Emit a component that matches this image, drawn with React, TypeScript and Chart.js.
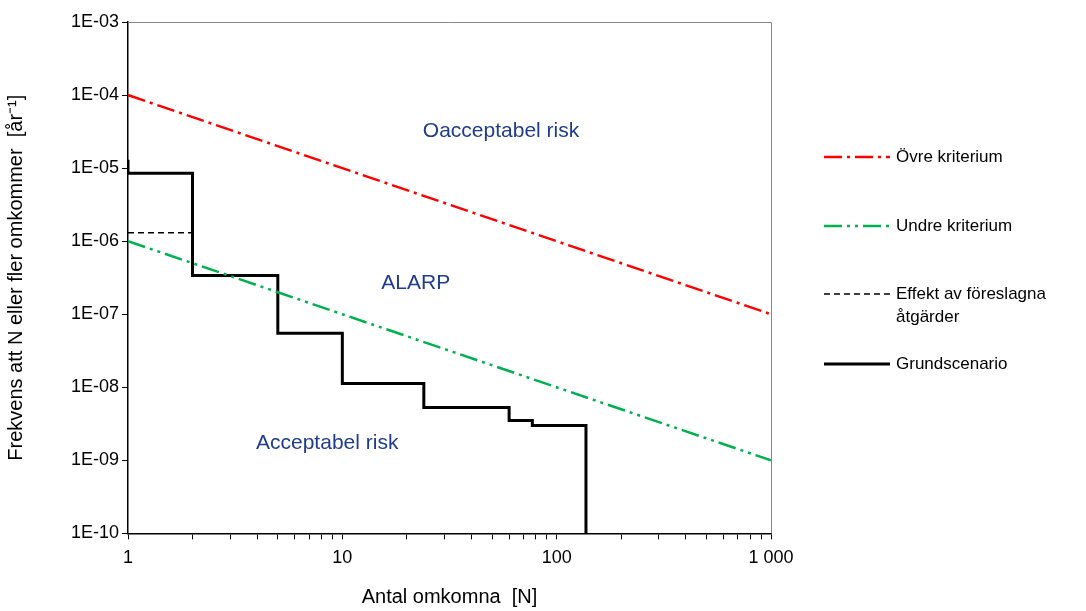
import React, { useEffect, useRef } from 'react';
import { Chart, registerables } from 'chart.js';

Chart.register(...registerables);

const FONT = '"Liberation Sans", Arial, sans-serif';

const criteriaN = [1, 1000];
const upperCriterion = [1e-4, 1e-7];
const lowerCriterion = [1e-6, 1e-9];

const effectN = [1, 2];
const effectF = [1.3e-6, 1.3e-6];

const baseN = [1, 1, 2, 5, 10, 24, 60, 77, 137];
const baseF = [1.3e-5, 8.5e-6, 3.4e-7, 5.5e-8, 1.13e-8, 5.3e-9, 3.5e-9, 3.0e-9, 1e-10];

const yTicks = [1e-10, 1e-9, 1e-8, 1e-7, 1e-6, 1e-5, 1e-4, 1e-3];
const xTicks = [1, 2, 3, 4, 5, 6, 7, 8, 9, 10, 20, 30, 40, 50, 60, 70, 80, 90, 100, 200, 300, 400, 500, 600, 700, 800, 900, 1000];
const xLabels: Record<number, string> = { 1: '1', 10: '10', 100: '100', 1000: '1 000' };

const regionLabels = [
  { text: 'Oacceptabel risk', x: 55, y: 3.2e-5 },
  { text: 'ALARP', x: 22, y: 2.7e-7 },
  { text: 'Acceptabel risk', x: 8.5, y: 1.7e-9 },
];

const legendItems = [
  { label: ['Övre kriterium'], color: '#ff0000', dash: [18, 5, 3, 5], width: 2.5 },
  { label: ['Undre kriterium'], color: '#00b050', dash: [18, 5, 3, 5, 3, 5], width: 2.5 },
  { label: ['Effekt av föreslagna', 'åtgärder'], color: '#000', dash: [6, 4], width: 1.5 },
  { label: ['Grundscenario'], color: '#000', dash: [], width: 3 },
];

const toPts = (xs: number[], ys: number[]) => xs.map((x, i) => ({ x, y: ys[i] }));

const extras = {
  id: 'extras',
  afterDatasetsDraw(chart: any) {
    const { ctx, chartArea, scales } = chart;
    ctx.save();
    ctx.strokeStyle = '#888';
    ctx.lineWidth = 1;
    ctx.beginPath();
    ctx.moveTo(chartArea.left, chartArea.top + 0.5);
    ctx.lineTo(chartArea.right + 0.5, chartArea.top + 0.5);
    ctx.lineTo(chartArea.right + 0.5, chartArea.bottom);
    ctx.stroke();
    ctx.fillStyle = '#1f3d8a';
    ctx.font = `21px ${FONT}`;
    ctx.textAlign = 'center';
    ctx.textBaseline = 'middle';
    regionLabels.forEach((r) => {
      ctx.fillText(r.text, scales.x.getPixelForValue(r.x), scales.y.getPixelForValue(r.y));
    });
    ctx.textAlign = 'left';
    ctx.fillStyle = '#000';
    ctx.font = `17px ${FONT}`;
    const ys = [157, 226, 294, 364];
    legendItems.forEach((it, i) => {
      const y = ys[i];
      ctx.strokeStyle = it.color;
      ctx.lineWidth = it.width;
      ctx.setLineDash(it.dash);
      ctx.beginPath();
      ctx.moveTo(824, y);
      ctx.lineTo(890, y);
      ctx.stroke();
      ctx.setLineDash([]);
      it.label.forEach((l, j) => ctx.fillText(l, 896, y + j * 23));
    });
    ctx.restore();
  },
};

const App: React.FC = () => {
  const canvasRef = useRef<HTMLCanvasElement>(null);
  const chartRef = useRef<Chart | null>(null);

  useEffect(() => {
    if (!canvasRef.current) return;
    chartRef.current = new Chart(canvasRef.current, {
      type: 'line',
      data: {
        datasets: [
          { data: toPts(criteriaN, upperCriterion), borderColor: '#ff0000', borderWidth: 2.5, borderDash: [18, 5, 3, 5], pointRadius: 0 },
          { data: toPts(criteriaN, lowerCriterion), borderColor: '#00b050', borderWidth: 2.5, borderDash: [18, 5, 3, 5, 3, 5], pointRadius: 0 },
          { data: toPts(effectN, effectF), borderColor: '#000', borderWidth: 1.5, borderDash: [6, 4], pointRadius: 0 },
          { data: toPts(baseN, baseF), borderColor: '#000', borderWidth: 3, stepped: 'before', pointRadius: 0 },
        ],
      },
      options: {
        animation: false,
        responsive: false,
        layout: { padding: { top: 22, right: 315, bottom: 0, left: 0 } },
        plugins: { legend: { display: false }, tooltip: { enabled: false } },
        scales: {
          x: {
            type: 'logarithmic',
            min: 1,
            max: 1000,
            afterBuildTicks: (s: any) => { s.ticks = xTicks.map((v) => ({ value: v })); },
            ticks: {
              autoSkip: false,
              maxRotation: 0,
              color: '#000',
              font: { family: FONT, size: 18 },
              padding: 8,
              callback: (v: any) => xLabels[v as number] ?? '',
            },
            grid: { drawOnChartArea: false, tickLength: 6, color: '#000' },
            border: { color: '#000', width: 1.5 },
            title: { display: true, text: 'Antal omkomna  [N]', color: '#000', font: { family: FONT, size: 20 }, padding: { top: 8, bottom: 2 } },
          },
          y: {
            type: 'logarithmic',
            min: 1e-10,
            max: 1e-3,
            afterBuildTicks: (s: any) => { s.ticks = yTicks.map((v) => ({ value: v })); },
            afterFit: (s: any) => { s.width = 128; },
            ticks: {
              autoSkip: false,
              color: '#000',
              font: { family: FONT, size: 18 },
              callback: (v: any) => {
                const e = Math.round(Math.log10(v as number));
                return '1E-' + String(-e).padStart(2, '0');
              },
            },
            grid: { drawOnChartArea: false, tickLength: 6, color: '#000' },
            border: { color: '#000', width: 1.5 },
            title: { display: true, text: 'Frekvens att N eller fler omkommer  [år⁻¹]', color: '#000', font: { family: FONT, size: 20 } },
          },
        },
      },
      plugins: [extras],
    });
    return () => { chartRef.current?.destroy(); };
  }, []);

  return (
    <div style={{ position: 'absolute', left: 0, top: 0, width: 1086, height: 611, background: '#fff' }}>
      <canvas ref={canvasRef} width={1086} height={611} />
    </div>
  );
};

export default App;
